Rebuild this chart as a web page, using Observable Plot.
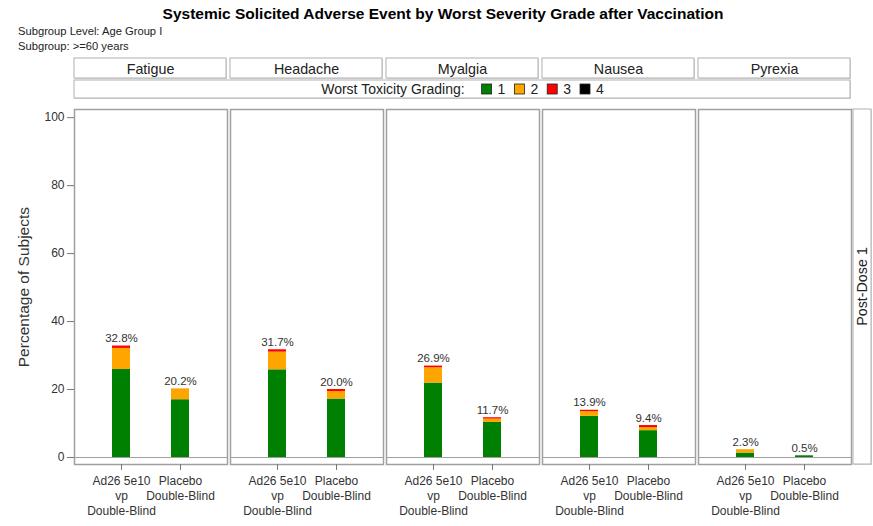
<!DOCTYPE html>
<html><head><meta charset="utf-8">
<script src="https://cdn.jsdelivr.net/npm/d3@7"></script>
<script src="https://cdn.jsdelivr.net/npm/@observablehq/plot@0.6"></script>
<style>
body{margin:0;background:#fff;}
#chart{position:relative;width:873px;height:526px;}
</style></head><body><div id="chart"></div>
<script>
// ---- data ----
const terms = ["Fatigue","Headache","Myalgia","Nausea","Pyrexia"];
const groups = ["Ad26 5e10\nvp\nDouble-Blind","Placebo\nDouble-Blind"];
const grades = ["1","2","3","4"];
const gradeColors = ["#008000","#FFA500","#FF0000","#000000"];
// per term: [Ad26 5e10 vp, Placebo]
const grade1 = [[25.9,17.0],[25.8,17.2],[21.9,10.3],[12.1,7.9],[1.3,0.5]];
const grade2 = [[6.2,3.2],[5.2,2.2],[4.5,1.0],[1.4,0.9],[1.0,0.0]];
const grade3 = [[0.7,0.0],[0.7,0.6],[0.5,0.4],[0.4,0.6],[0.0,0.0]];
const grade4 = [[0,0],[0,0],[0,0],[0,0],[0,0]];
const totals = [[32.8,20.2],[31.7,20.0],[26.9,11.7],[13.9,9.4],[2.3,0.5]];
const yTicks = [0,20,40,60,80,100];
const titleText = "Systemic Solicited Adverse Event by Worst Severity Grade after Vaccination";
const subtitles = ["Subgroup Level: Age Group I","Subgroup: >=60 years"];
const rowLabel = "Post-Dose 1";
const legendTitle = "Worst Toxicity Grading:";
const yLabel = "Percentage of Subjects";

const FONT = "'Liberation Sans', Arial, sans-serif";
const gradeArrays = [grade1, grade2, grade3, grade4];
const rows = [];
terms.forEach((t,i)=>groups.forEach((g,j)=>grades.forEach((k,m)=>{
  rows.push({term:t, group:g, grade:k, value:gradeArrays[m][i][j]});
})));
const totalRows = [];
terms.forEach((t,i)=>groups.forEach((g,j)=>totalRows.push({term:t, group:g, total:totals[i][j]})));

const W = 873, H = 526;
const chart = Plot.plot({
  width: W, height: H,
  marginTop: 109, marginBottom: 62, marginLeft: 73, marginRight: 22,
  style: {fontFamily: FONT, fontSize: "12px", color: "#333", background: "#fff"},
  fx: {domain: terms, paddingInner: 0.02, paddingOuter: 0, axis: null, label: null},
  x: {domain: groups, paddingInner: 0.695, paddingOuter: 0.644, label: null, axis: null},
  y: {domain: [-2.06, 102.4], label: null, axis: null},
  color: {domain: grades, range: gradeColors},
  marks: [
    Plot.ruleY([0], {stroke: "#a0a0a0", strokeWidth: 1.2}),
    Plot.barY(rows, {fx: "term", x: "group", y: "value", fill: "grade"}),
    Plot.text(totalRows, {fx: "term", x: "group", y: "total", text: d => d.total.toFixed(1) + "%",
      dy: -4, lineAnchor: "bottom", fontSize: 11.5, fill: "#333"}),
    Plot.frame({stroke: "#a0a0a0", strokeWidth: 1.5}),
    Plot.axisY({ticks: yTicks, tickSize: 7, tickPadding: 3, label: null, anchor: "left", stroke: "#777", fill: "#333"}),
    Plot.axisX({tickSize: 6, tickPadding: 4, lineHeight: 1.25, label: null, anchor: "bottom", stroke: "#777", fill: "#333"})
  ]
});
document.getElementById("chart").appendChild(chart);

const svg = d3.select(chart);
const fx = chart.scale("fx");
const left = fx.apply(terms[0]);
const right = fx.apply(terms[terms.length-1]) + fx.bandwidth;

// title & subtitles
svg.append("text").attr("x", 443).attr("y", 19).attr("text-anchor", "middle")
  .attr("font-family", FONT).attr("font-weight", "bold").attr("font-size", 15.5).attr("fill", "#000").text(titleText);
subtitles.forEach((s,i)=>svg.append("text").attr("x", 18).attr("y", 35 + i*15).attr("text-anchor", "start")
  .attr("font-family", FONT).attr("font-size", 11.2).attr("fill", "#222").text(s));

// strips
const strip = svg.append("g");
function box(x, y, w, h) {
  strip.append("rect").attr("x", x+1).attr("y", y+1).attr("width", w).attr("height", h).attr("fill", "#d8d8d8");
  strip.append("rect").attr("x", x).attr("y", y).attr("width", w).attr("height", h)
    .attr("fill", "#fff").attr("stroke", "#b0b0b0").attr("stroke-width", 1);
}
terms.forEach(t=>{
  const x0 = fx.apply(t);
  box(x0, 58, fx.bandwidth - 1, 20);
  strip.append("text").attr("x", x0 + fx.bandwidth/2).attr("y", 73.5).attr("text-anchor", "middle")
    .attr("font-family", FONT).attr("font-size", 14.3).attr("fill", "#222").text(t);
});
box(left, 80, right - left - 1, 18);
// legend
const lg = strip.append("g");
const lt = lg.append("text").attr("x", 0).attr("y", 94).attr("text-anchor", "start")
  .attr("font-family", FONT).attr("font-size", 14).attr("fill", "#222").text(legendTitle);
let cx = lt.node().getComputedTextLength() + 17;
const color = chart.scale("color");
color.domain.forEach((g,i)=>{
  lg.append("rect").attr("x", cx).attr("y", 84).attr("width", 10).attr("height", 10)
    .attr("fill", color.range[i]).attr("stroke", "#222").attr("stroke-width", 0.8);
  const tt = lg.append("text").attr("x", cx + 16).attr("y", 94).attr("text-anchor", "start")
    .attr("font-family", FONT).attr("font-size", 14).attr("fill", "#222").text(g);
  cx += 16 + tt.node().getComputedTextLength() + 9;
});
const lw = cx - 9;
lg.attr("transform", `translate(${(left+right)/2 - lw/2},0)`);

// row strip
const y = chart.scale("y");
const yTop = 109, yBot = H - 62;
box(right + 2, yTop, 18, yBot - yTop);
strip.append("text").attr("transform", `translate(${right + 16},${(yTop+yBot)/2}) rotate(-90)`)
  .attr("text-anchor", "middle").attr("font-family", FONT).attr("font-size", 14.3).attr("fill", "#222").text(rowLabel);

// y label
svg.append("text").attr("transform", `translate(29,${(y.apply(0)+y.apply(100))/2}) rotate(-90)`)
  .attr("text-anchor", "middle").attr("font-family", FONT).attr("font-size", 15.5).attr("fill", "#333").text(yLabel);
</script></body></html>
